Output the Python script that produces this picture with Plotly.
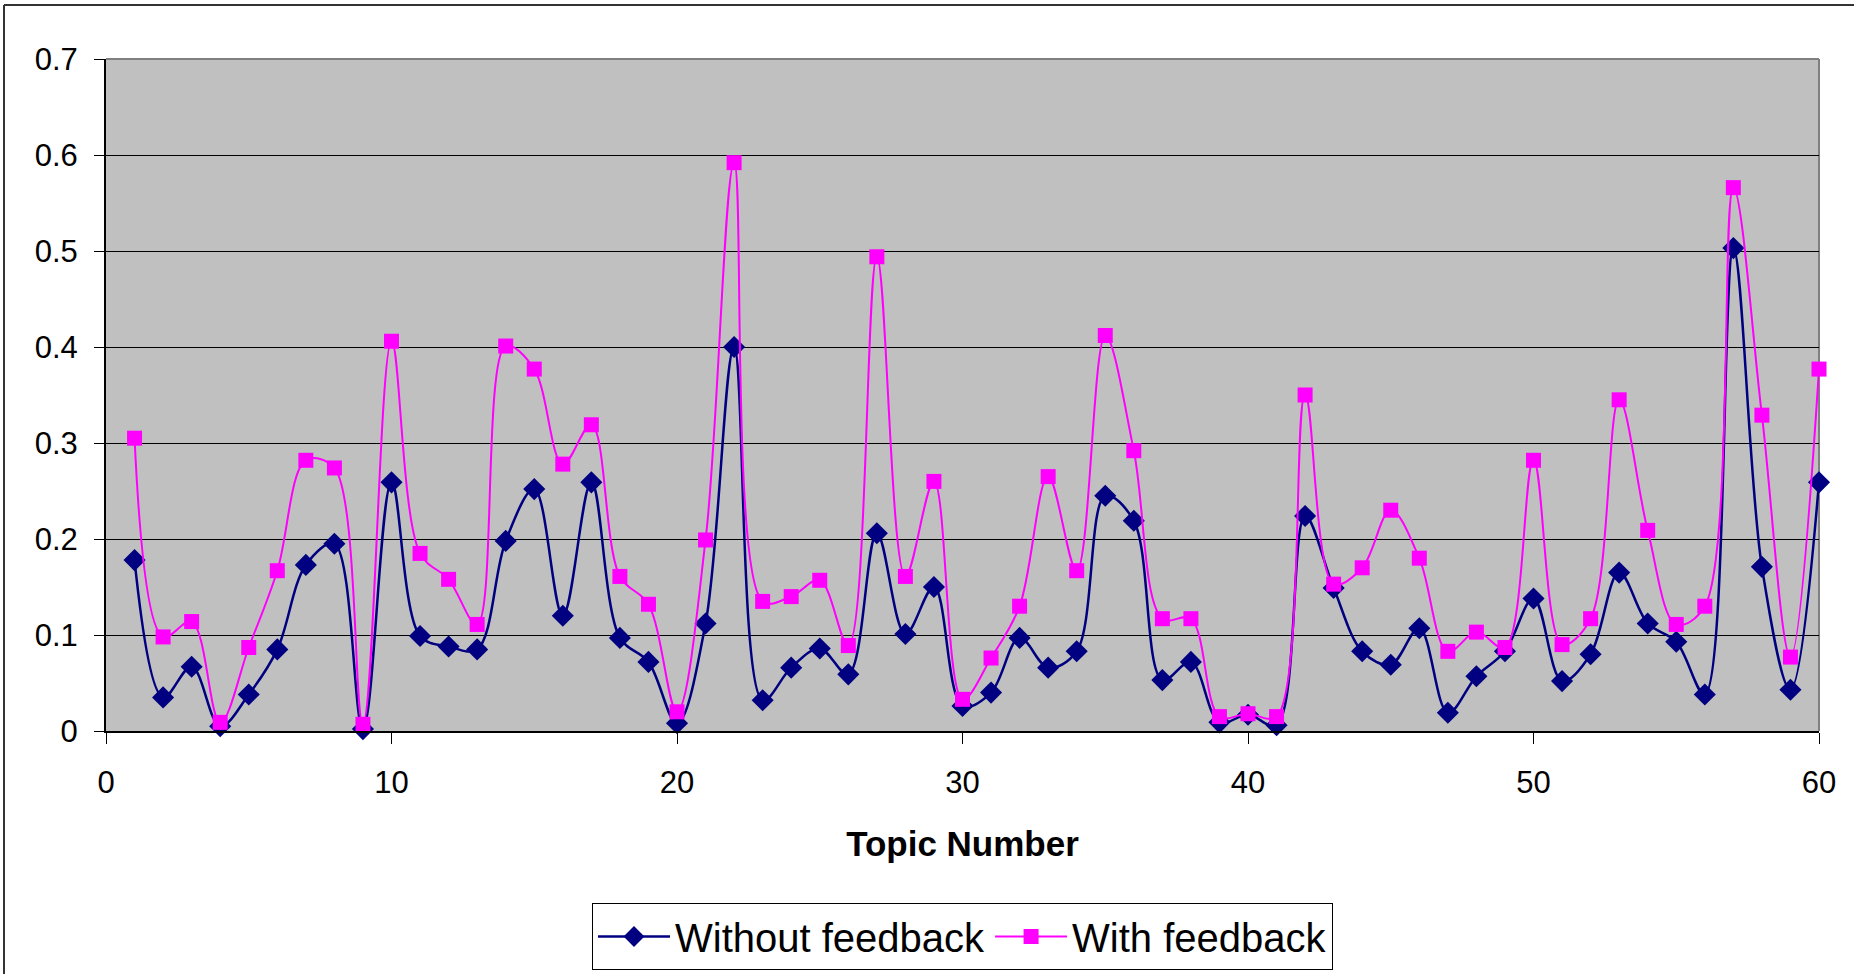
import plotly.graph_objects as go

# Topic numbers 1..60
topics = list(range(1, 61))

without_feedback = [
    0.178, 0.035, 0.067, 0.005, 0.038, 0.085, 0.173, 0.195, 0.002, 0.259,
    0.099, 0.088, 0.085, 0.198, 0.252, 0.120, 0.259, 0.097, 0.072, 0.008,
    0.112, 0.400, 0.032, 0.066, 0.086, 0.059, 0.206, 0.101, 0.150, 0.026,
    0.040, 0.097, 0.066, 0.083, 0.245, 0.219, 0.053, 0.072, 0.009, 0.017,
    0.006, 0.224, 0.149, 0.083, 0.069, 0.107, 0.019, 0.057, 0.083, 0.138,
    0.052, 0.080, 0.165, 0.112, 0.093, 0.038, 0.503, 0.171, 0.043, 0.259,
]

with_feedback = [
    0.305, 0.098, 0.114, 0.009, 0.087, 0.167, 0.282, 0.274, 0.007, 0.406,
    0.185, 0.158, 0.111, 0.401, 0.377, 0.278, 0.319, 0.161, 0.132, 0.020,
    0.199, 0.592, 0.135, 0.140, 0.157, 0.089, 0.494, 0.161, 0.260, 0.033,
    0.076, 0.130, 0.265, 0.167, 0.412, 0.292, 0.117, 0.117, 0.015, 0.018,
    0.015, 0.350, 0.153, 0.170, 0.230, 0.180, 0.083, 0.103, 0.087, 0.282,
    0.090, 0.117, 0.345, 0.209, 0.111, 0.130, 0.566, 0.329, 0.077, 0.377,
]

x_ticks = [0, 10, 20, 30, 40, 50, 60]
y_ticks = [0, 0.1, 0.2, 0.3, 0.4, 0.5, 0.6, 0.7]

W, H = 1854, 974
ML, MR, MT, MB = 106, 35, 59, 243
pw, ph = W - ML - MR, H - MT - MB

FONT = "Liberation Sans, Arial, sans-serif"

fig = go.Figure()
fig.add_trace(go.Scatter(
    x=topics, y=without_feedback, name="Without feedback",
    mode="lines+markers", cliponaxis=False,
    line=dict(color="#000080", width=2.5, shape="spline", smoothing=1),
    marker=dict(symbol="diamond", size=17, color="#000080"),
))
fig.add_trace(go.Scatter(
    x=topics, y=with_feedback, name="With feedback",
    mode="lines+markers", cliponaxis=False,
    line=dict(color="#FF00FF", width=2, shape="spline", smoothing=1),
    marker=dict(symbol="square", size=15, color="#FF00FF"),
))

# outer frame (left and top edges visible), grey plot-area top/right border
fx0 = (4 - ML) / pw
fy1 = (H - MB - 5) / ph
shapes = [
    dict(type="line", xref="paper", yref="paper", x0=fx0, x1=fx0, y0=-1, y1=fy1,
         line=dict(color="#333333", width=2)),
    dict(type="line", xref="paper", yref="paper", x0=fx0, x1=1.2, y0=fy1, y1=fy1,
         line=dict(color="#333333", width=2)),
    dict(type="line", xref="paper", yref="paper", x0=0, x1=1, y0=1, y1=1,
         line=dict(color="#808080", width=2), layer="above"),
    dict(type="line", xref="paper", yref="paper", x0=1, x1=1, y0=0, y1=1,
         line=dict(color="#808080", width=2), layer="below"),
]

fig.update_layout(
    width=W, height=H,
    margin=dict(l=ML, r=MR, t=MT, b=MB, autoexpand=False),
    paper_bgcolor="white",
    plot_bgcolor="#C0C0C0",
    font=dict(family=FONT, color="black"),
    shapes=shapes,
    showlegend=True,
    legend=dict(
        orientation="h",
        x=0.5, xanchor="center",
        y=-(903 - (H - MB)) / ph, yanchor="top",
        bgcolor="white", bordercolor="black", borderwidth=1,
        font=dict(family=FONT, size=40, color="black"),
        itemwidth=72,
        tracegroupgap=0,
    ),
    xaxis=dict(
        range=[0, 60], tickvals=x_ticks,
        showgrid=False, zeroline=False,
        showline=True, linecolor="black", linewidth=2,
        ticks="outside", ticklen=11, tickcolor="black", tickwidth=1,
        tickfont=dict(family=FONT, size=31, color="black"),
        ticklabelstandoff=12,
        title=dict(text="<b>Topic Number</b>",
                   font=dict(family=FONT, size=35, color="black"),
                   standoff=32),
    ),
    yaxis=dict(
        range=[0, 0.7], tickvals=y_ticks,
        showgrid=True, gridcolor="black", gridwidth=1,
        zeroline=False,
        showline=True, linecolor="black", linewidth=2,
        ticks="outside", ticklen=10, tickcolor="black", tickwidth=1,
        tickfont=dict(family=FONT, size=31, color="black"),
        ticklabelstandoff=10,
    ),
)

fig.write_html("out.html")
